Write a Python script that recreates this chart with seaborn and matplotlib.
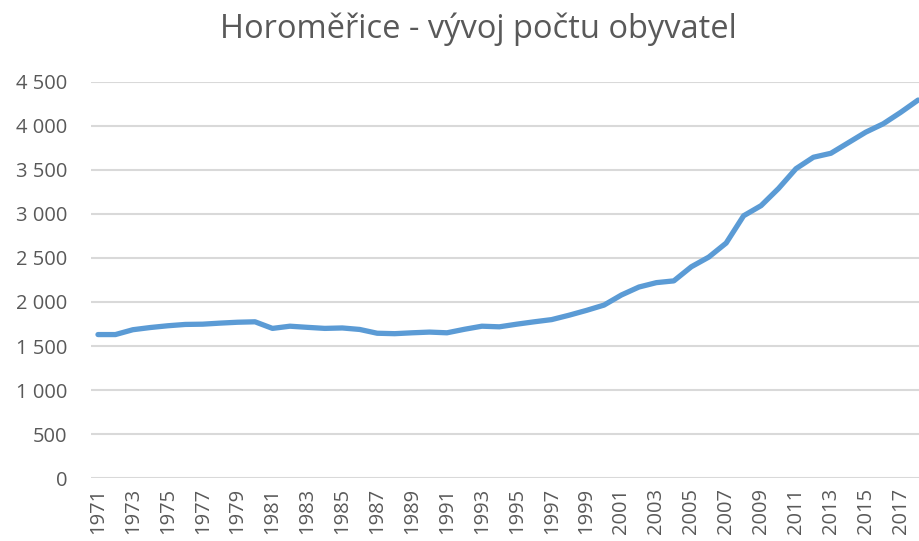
import matplotlib
matplotlib.use("Agg")
import matplotlib.pyplot as plt
import seaborn as sns
import pandas as pd
from matplotlib.ticker import FuncFormatter, MultipleLocator

# population of Horoměřice by year
years = list(range(1971, 2019))
population = [
    1630, 1630, 1685, 1710, 1730, 1745, 1748, 1760, 1770, 1775,
    1700, 1725, 1712, 1700, 1705, 1688, 1645, 1640, 1650, 1658,
    1650, 1690, 1725, 1718, 1748, 1775, 1800, 1850, 1905, 1965,
    2080, 2170, 2220, 2240, 2400, 2510, 2670, 2980, 3095, 3290,
    3515, 3645, 3690, 3810, 3930, 4025, 4155, 4295,
]
tick_years = list(range(1971, 2018, 2))

title = "Horoměřice - vývoj počtu obyvatel"
line_color = "#5B9BD5"
text_color = "#595959"
grid_color = "#D9D9D9"

df = pd.DataFrame({"rok": years, "obyvatel": population})

sns.set_theme(style="white")
plt.rcParams["font.family"] = ["Open Sans", "DejaVu Sans"]

fig = plt.figure(figsize=(9.19, 5.41), dpi=100)
ax = fig.add_axes([91 / 919, 63 / 541, 1 - 91 / 919, 396 / 541])

sns.lineplot(data=df, x="rok", y="obyvatel", ax=ax, color=line_color,
             linewidth=3.8, solid_capstyle="round", solid_joinstyle="round")

ax.set_xlim(1970.6, 2018.05)
ax.set_ylim(0, 4500)
ax.yaxis.set_major_locator(MultipleLocator(500))
ax.yaxis.set_major_formatter(FuncFormatter(lambda v, p: f"{int(v):,}".replace(",", " ")))
ax.set_xticks(tick_years)
ax.set_xticklabels([str(y) for y in tick_years], rotation=90)

ax.grid(axis="y", color=grid_color, linewidth=1.5)
ax.set_axisbelow(True)
for s in ax.spines.values():
    s.set_visible(False)
ax.tick_params(axis="both", length=0, labelsize=14.5, labelcolor=text_color)
ax.tick_params(axis="y", pad=17)
ax.tick_params(axis="x", pad=7)
ax.set_xlabel("")
ax.set_ylabel("")

fig.text(478 / 919, 1 - 29 / 541, title, ha="center", va="center",
         fontsize=23.5, color=text_color)

fig.savefig("out.png", dpi=100)
